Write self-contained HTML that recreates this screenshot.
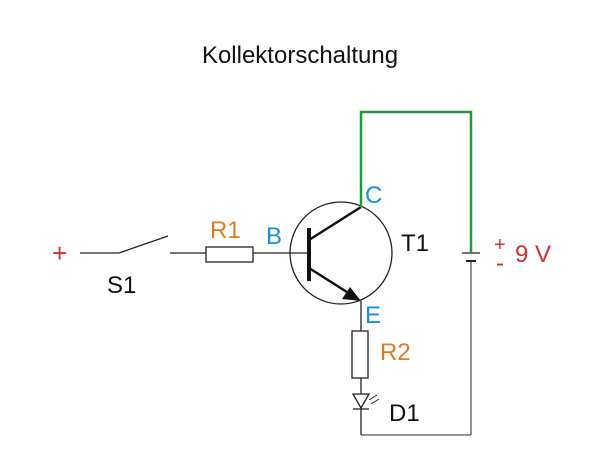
<!DOCTYPE html>
<html><head><style>html,body{margin:0;background:#fff}</style></head><body>
<svg width="600" height="457" xmlns="http://www.w3.org/2000/svg" font-family="Liberation Sans, sans-serif">
<rect width="600" height="457" fill="#fff"/>
<text x="300" y="63" font-size="24" text-anchor="middle" fill="#111">Kollektorschaltung</text>
<g stroke="#222" stroke-width="1.3" fill="none">
<line x1="80" y1="253" x2="119" y2="253"/>
<line x1="119" y1="253" x2="168" y2="236"/>
<line x1="170" y1="253" x2="206" y2="253"/>
<rect x="206" y="247" width="47" height="15" fill="#fff"/>
<line x1="253" y1="253" x2="309" y2="253"/>
<circle cx="341" cy="253" r="51"/>
<line x1="361" y1="301" x2="361" y2="331"/>
<rect x="352" y="331" width="16" height="47" fill="#fff"/>
<line x1="361" y1="378" x2="361" y2="435"/>
<line x1="361" y1="435" x2="471" y2="435" stroke="#555"/>
<line x1="471" y1="261" x2="471" y2="435" stroke="#555"/>
<line x1="462" y1="253" x2="480" y2="253"/>
<line x1="466" y1="261" x2="476" y2="261" stroke-width="2"/>
<polygon points="353,394 369,394 361,408" fill="#fff"/>
<line x1="353" y1="409" x2="369" y2="409"/>
<line x1="369" y1="400" x2="377" y2="395" stroke-width="1"/>
<line x1="371" y1="404" x2="379" y2="399" stroke-width="1"/>
</g>
<line x1="309" y1="228" x2="309" y2="281" stroke="#111" stroke-width="4"/>
<line x1="309" y1="240" x2="361" y2="207" stroke="#111" stroke-width="2.5"/>
<line x1="309" y1="268" x2="350" y2="294" stroke="#111" stroke-width="2.5"/>
<polygon points="361,301 342,299 350,287" fill="#111"/>
<polyline points="361,207 361,112 471,112 471,253" fill="none" stroke="#1e9a3a" stroke-width="2.5"/>
<g font-size="24">
<text x="52" y="262" fill="#d32f2f" font-size="26">+</text>
<text x="107" y="293" fill="#111">S1</text>
<text x="210" y="238" fill="#e07b22">R1</text>
<text x="266" y="244" fill="#1a8fd0">B</text>
<text x="365" y="203" fill="#1a8fd0">C</text>
<text x="401" y="251" fill="#111">T1</text>
<text x="365" y="323" fill="#1a8fd0">E</text>
<text x="380" y="360" fill="#e07b22">R2</text>
<text x="389" y="421" fill="#111">D1</text>
<text x="494" y="251" fill="#d32f2f" font-size="20">+</text>
<text x="496" y="271" fill="#d32f2f" font-size="24">-</text>
<text x="515" y="262" fill="#d32f2f">9 V</text>
</g>
</svg>
</body></html>
